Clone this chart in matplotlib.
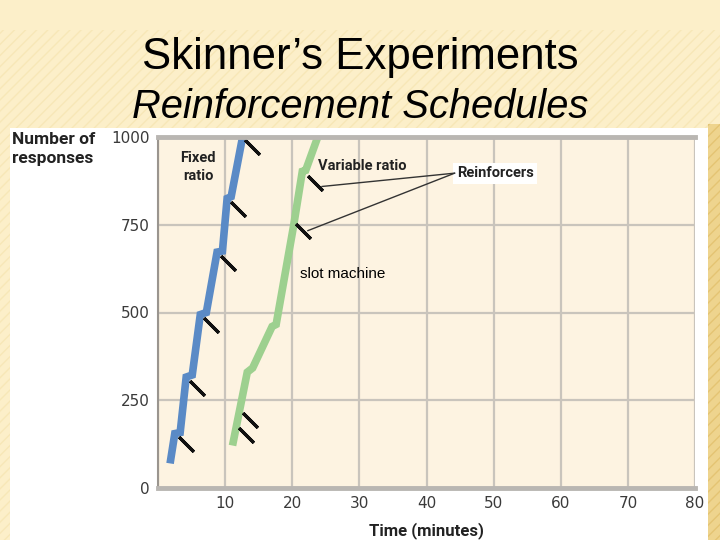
import matplotlib.pyplot as plt
from matplotlib.patches import Rectangle
import matplotlib.transforms as mtransforms

# fixed ratio curve (time in minutes, cumulative responses)
fr_time = [1.8, 2.5, 3.3, 4.2, 5.1, 6.3, 7.2, 8.8, 9.6, 10.3, 10.9, 12.6]
fr_resp = [70, 155, 158, 316, 322, 494, 500, 672, 675, 825, 830, 1000]
fr_reinf_time = [2.5, 4.2, 6.3, 8.8, 10.3, 12.3]
fr_reinf_resp = [155, 316, 494, 672, 825, 1000]

# variable ratio curve
vr_time = [11.1, 13.3, 14.1, 17.0, 17.6, 20.2, 21.5, 22.0, 23.8]
vr_resp = [121, 330, 342, 460, 466, 747, 902, 905, 1000]
vr_reinf_time = [11.5, 12.0, 20.0, 21.8]
vr_reinf_resp = [181, 224, 761, 899]

x_ticks = [0, 10, 20, 30, 40, 50, 60, 70, 80]
x_labels = ['', '10', '20', '30', '40', '50', '60', '70', '80']
y_ticks = [0, 250, 500, 750, 1000]

fig = plt.figure(figsize=(7.2, 5.4), dpi=100)
fig.patch.set_facecolor('#fcefc9')

# striped slide background
bg = Rectangle((0, 0), 1, 0.945, transform=fig.transFigure, facecolor='#fcefc9',
               edgecolor='#f7e7b7', hatch='///', linewidth=0, zorder=-3)
fig.patches.append(bg)
side = Rectangle((0.983, 0), 0.017, 0.77, transform=fig.transFigure,
                 facecolor='#eed48e', edgecolor='#e4c473', hatch='///',
                 linewidth=0, zorder=-2)
fig.patches.append(side)
panel = Rectangle((10 / 720, 0), 698 / 720, 412 / 540, transform=fig.transFigure,
                  facecolor='white', edgecolor='none', zorder=-1)
fig.patches.append(panel)

fig.text(0.5, 1 - 69 / 540, 'Skinner\u2019s Experiments', ha='center', va='baseline',
         fontsize=31.5, family='Liberation Sans', color='black')
fig.text(0.5, 1 - 118 / 540, 'Reinforcement Schedules', ha='center', va='baseline',
         fontsize=28.7, family='Liberation Sans', style='italic', color='black')

ax = fig.add_axes([158 / 720, 1 - 488 / 540, 537 / 720, 351 / 540])
ax.set_facecolor('#fdf3e1')
ax.set_xlim(0, 80)
ax.set_ylim(0, 1000)
ax.set_xticks(x_ticks)
ax.set_xticklabels(x_labels)
ax.set_yticks(y_ticks)
ax.grid(True, color='#c9c4bc', linewidth=1.6)
ax.set_axisbelow(True)
ax.tick_params(length=0, labelsize=11, labelcolor='#3a3a3a', pad=6)
for lab in ax.get_xticklabels() + ax.get_yticklabels():
    lab.set_family('DejaVu Sans')
ax.spines['right'].set_visible(False)
ax.spines['left'].set_color('#9a958f')
ax.spines['left'].set_linewidth(1.5)
for s in ['top', 'bottom']:
    ax.spines[s].set_color('#b9b6b2')
    ax.spines[s].set_linewidth(3.5)

ax.plot(fr_time, fr_resp, color='#5a8ac6', linewidth=5.5, solid_capstyle='butt',
        solid_joinstyle='miter')
ax.plot(vr_time, vr_resp, color='#9dd08f', linewidth=5.5, solid_capstyle='butt',
        solid_joinstyle='miter')

# reinforcer marks sit just right of and below each reinforcement
offset = mtransforms.ScaledTranslation(8 / 72, -7.5 / 72, fig.dpi_scale_trans)
ax.plot(fr_reinf_time, fr_reinf_resp, linestyle='none', marker=(2, 2, 45),
        markersize=15, markeredgewidth=2.3, color='#111111',
        transform=ax.transData + offset, clip_on=False)
ax.plot(vr_reinf_time, vr_reinf_resp, linestyle='none', marker=(2, 2, 45),
        markersize=15, markeredgewidth=2.3, color='#111111',
        transform=ax.transData + offset, clip_on=False)

lab_font = dict(family='Roboto', fontweight='bold', color='#222222')
ax.text(6.0, 915, 'Fixed\nratio', ha='center', va='center', fontsize=10.5,
        linespacing=1.35, **lab_font)
ax.text(23.8, 916, 'Variable ratio', ha='left', va='center', fontsize=10.5, **lab_font)
ax.text(44.5, 897, 'Reinforcers', ha='left', va='center', fontsize=10.5,
        bbox=dict(facecolor='white', edgecolor='none', pad=2.5), **lab_font)
for tx, ty in [(24.4, 859), (22.3, 733)]:
    ax.annotate('', xy=(tx, ty), xytext=(44.2, 897),
                arrowprops=dict(arrowstyle='-', color='#333333', linewidth=1.0,
                                shrinkA=0, shrinkB=0))
ax.text(21.2, 610, 'slot machine', ha='left', va='center', fontsize=11,
        family='Liberation Sans', color='black')

ax.set_xlabel('Time (minutes)', fontsize=12, labelpad=8, **lab_font)
fig.text(12 / 720, 1 - 132 / 540, 'Number of\nresponses', ha='left', va='top',
         fontsize=12.5, linespacing=1.35, **lab_font)

fig.savefig('out.png', dpi=100, facecolor=fig.get_facecolor())
